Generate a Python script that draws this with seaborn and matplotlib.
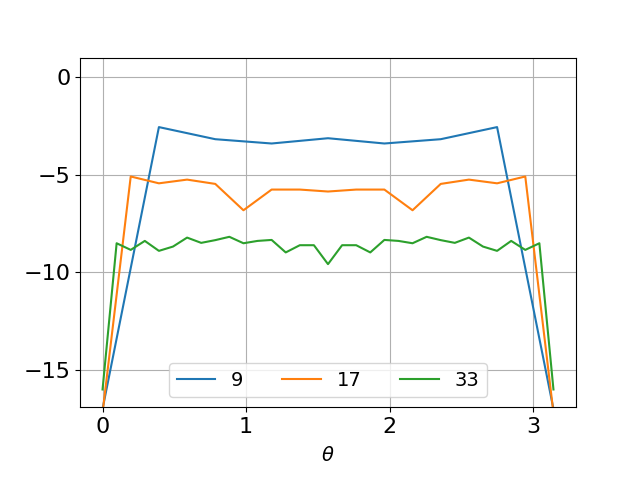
import numpy as np
import pandas as pd
import matplotlib
matplotlib.use("Agg")
import matplotlib.pyplot as plt
import seaborn as sns

labels = ["9", "17", "33"]
vals_9 = [-17.0, -2.56, -3.18, -3.40, -3.13, -3.40, -3.18, -2.56, -17.0]
vals_17 = [-17.2, -5.09, -5.44, -5.25, -5.47, -6.82, -5.76, -5.76, -5.86,
           -5.76, -5.76, -6.82, -5.47, -5.25, -5.44, -5.09, -17.2]
vals_33 = [-16.0, -8.51, -8.85, -8.39, -8.90, -8.68, -8.22, -8.49, -8.35,
           -8.18, -8.51, -8.39, -8.34, -8.98, -8.61, -8.61, -9.58,
           -8.61, -8.61, -8.98, -8.34, -8.39, -8.51, -8.18, -8.35,
           -8.49, -8.22, -8.68, -8.90, -8.39, -8.85, -8.51, -16.0]
xticks = [0, 1, 2, 3]

frames = []
for lab, v in zip(labels, [vals_9, vals_17, vals_33]):
    n = len(v)
    frames.append(pd.DataFrame({"theta": np.linspace(0, np.pi, n), "val": v, "N": lab}))
df = pd.concat(frames, ignore_index=True)

fig, ax = plt.subplots(figsize=(6.4, 4.8), dpi=100)
sns.lineplot(data=df, x="theta", y="val", hue="N", hue_order=labels,
             palette=["#1f77b4", "#ff7f0e", "#2ca02c"], ax=ax, linewidth=1.5)
ax.set_ylim(-16.9, 1.0)
ax.set_xticks(xticks)
ax.set_xlabel(r"$\theta$", fontsize=14, labelpad=7)
ax.set_ylabel("")
ax.tick_params(labelsize=16)
ax.grid(True)
ax.legend(loc="lower center", ncol=3, fontsize=14)
fig.subplots_adjust(left=0.125, right=0.9, top=0.88, bottom=0.152)
fig.savefig("out.png", dpi=100)
